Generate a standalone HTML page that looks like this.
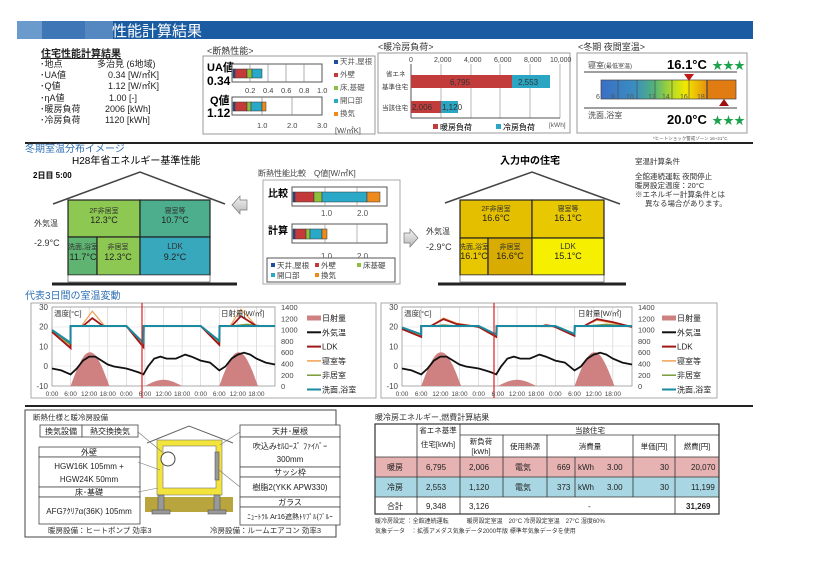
<!DOCTYPE html>
<html><head><meta charset="utf-8"><style>
html,body{margin:0;padding:0;background:#fff;}
svg{display:block;font-family:"Liberation Sans","Noto Sans CJK JP",sans-serif;}
</style></head><body>
<svg id="s" width="833" height="580" viewBox="0 0 833 580" xmlns="http://www.w3.org/2000/svg">
<defs>
<linearGradient id="tg" x1="0" x2="1" y1="0" y2="0">
<stop offset="0" stop-color="#3a6fc6"/><stop offset="0.32" stop-color="#3a8ec0"/><stop offset="0.5" stop-color="#52b37a"/><stop offset="0.68" stop-color="#b8dc22"/><stop offset="0.8" stop-color="#f2e800"/><stop offset="1" stop-color="#e8900c"/></linearGradient>
<linearGradient id="arr" x1="0" x2="0" y1="0" y2="1"><stop offset="0" stop-color="#f4f4f4"/><stop offset="1" stop-color="#b8b8b8"/></linearGradient>
</defs>
<rect x="17" y="21" width="736" height="18" fill="#1b5ba2"/>
<rect x="17" y="21" width="25" height="18" fill="#6a9bcc"/>
<rect x="42" y="21" width="43" height="18" fill="#3f76b5"/>
<rect x="85" y="21" width="28" height="18" fill="#5587c0"/>
<text x="112" y="36" font-size="15" fill="#fff">性能計算結果</text>
<g font-size="9" fill="#222">
<text x="41" y="57" font-size="10" font-weight="bold" text-decoration="underline">住宅性能計算結果</text>
<text x="40" y="67">･地点</text><text x="97" y="67">多治見 (6地域)</text>
<text x="40" y="78">･UA値</text><text x="108" y="78">0.34 [W/㎡K]</text>
<text x="40" y="89">･Q値</text><text x="108" y="89">1.12 [W/㎡K]</text>
<text x="40" y="101">･ηA値</text><text x="109" y="101">1.00 [-]</text>
<text x="40" y="112">･暖房負荷</text><text x="105" y="112">2006 [kWh]</text>
<text x="40" y="123">･冷房負荷</text><text x="105" y="123">1120 [kWh]</text>
</g>
<text x="207" y="54" font-size="9" fill="#333">&lt;断熱性能&gt;</text>
<rect x="203" y="56" width="172" height="78" fill="#fff" stroke="#999"/>
<text x="207" y="71" font-size="11" font-weight="bold">UA値</text>
<text x="207" y="85" font-size="12" font-weight="bold">0.34</text>
<rect x="232" y="64" width="90" height="18" fill="#fff" stroke="#555"/>
<g stroke="#777" stroke-width="0.6"><line x1="250" y1="64" x2="250" y2="82"/><line x1="268" y1="64" x2="268" y2="82"/><line x1="286" y1="64" x2="286" y2="82"/><line x1="304" y1="64" x2="304" y2="82"/></g>
<g stroke="#333" stroke-width="0.5"><rect x="233" y="69" width="2" height="9" fill="#1f4e9c"/><rect x="235" y="69" width="12" height="9" fill="#c43a3a"/><rect x="247" y="69" width="5" height="9" fill="#8cc03a"/><rect x="252" y="69" width="10" height="9" fill="#2aa8c8"/></g>
<g font-size="7.5" fill="#444"><text x="245" y="93">0.2</text><text x="263" y="93">0.4</text><text x="281" y="93">0.6</text><text x="299" y="93">0.8</text><text x="317" y="93">1.0</text></g>
<text x="210" y="104" font-size="11" font-weight="bold">Q値</text>
<text x="207" y="117" font-size="12" font-weight="bold">1.12</text>
<rect x="232" y="97" width="90" height="18" fill="#fff" stroke="#555"/>
<g stroke="#777" stroke-width="0.6"><line x1="262" y1="97" x2="262" y2="115"/><line x1="292" y1="97" x2="292" y2="115"/></g>
<g stroke="#333" stroke-width="0.5"><rect x="233" y="102" width="2" height="9" fill="#1f4e9c"/><rect x="235" y="102" width="12" height="9" fill="#c43a3a"/><rect x="247" y="102" width="4" height="9" fill="#8cc03a"/><rect x="251" y="102" width="11" height="9" fill="#2aa8c8"/><rect x="262" y="102" width="4" height="9" fill="#ee8a1c"/></g>
<g font-size="7.5" fill="#444"><text x="257" y="128">1.0</text><text x="287" y="128">2.0</text><text x="317" y="128">3.0</text><text x="335" y="133">[W/㎡K]</text></g>
<g font-size="7.5" fill="#555">
<rect x="334" y="60" width="4" height="4" fill="#1f4e9c"/><text x="340" y="64">天井,屋根</text>
<rect x="334" y="73" width="4" height="4" fill="#c43a3a"/><text x="340" y="77">外壁</text>
<rect x="334" y="86" width="4" height="4" fill="#8cc03a"/><text x="340" y="90">床,基礎</text>
<rect x="334" y="99" width="4" height="4" fill="#2aa8c8"/><text x="340" y="103">開口部</text>
<rect x="334" y="112" width="4" height="4" fill="#ee8a1c"/><text x="340" y="116">換気</text></g>
<text x="378" y="50" font-size="9" fill="#333">&lt;暖冷房負荷&gt;</text>
<rect x="378" y="53" width="192" height="80" fill="#fff" stroke="#999"/>
<g font-size="7" fill="#444"><text x="409" y="62">0</text><text x="434" y="62">2,000</text><text x="464" y="62">4,000</text><text x="494" y="62">6,000</text><text x="524" y="62">8,000</text><text x="550" y="62">10,000</text></g>
<g stroke="#888" stroke-width="0.6"><line x1="441" y1="64" x2="441" y2="118"/><line x1="471" y1="64" x2="471" y2="118"/><line x1="500" y1="64" x2="500" y2="118"/><line x1="530" y1="64" x2="530" y2="118"/><line x1="560" y1="64" x2="560" y2="118"/></g>
<line x1="411" y1="64" x2="411" y2="118" stroke="#555"/><line x1="411" y1="118" x2="560" y2="118" stroke="#555"/>
<rect x="411" y="75" width="101" height="13" fill="#c23c3c"/><rect x="512" y="75" width="38" height="13" fill="#2aa5c3"/>
<rect x="411" y="101" width="30" height="12" fill="#c23c3c"/><rect x="441" y="101" width="17" height="12" fill="#2aa5c3"/>
<g font-size="8" fill="#333"><text x="450" y="85">6,795</text><text x="518" y="85">2,553</text><text x="412" y="110">2,006</text><text x="442" y="110">1,120</text></g>
<g font-size="6.5" fill="#333"><text x="386" y="76">省エネ</text><text x="382" y="89">基準住宅</text><text x="382" y="110">当該住宅</text></g>
<rect x="433" y="124" width="5" height="5" fill="#c23c3c"/><text x="440" y="130" font-size="8">暖房負荷</text>
<rect x="496" y="124" width="5" height="5" fill="#2aa5c3"/><text x="503" y="130" font-size="8">冷房負荷</text>
<text x="549" y="127" font-size="6.5" fill="#555">[kWh]</text>
<text x="578" y="50" font-size="9" fill="#333">&lt;冬期 夜間室温&gt;</text>
<rect x="577" y="53" width="170" height="80" fill="#fff" stroke="#999"/>
<text x="588" y="68" font-size="8" fill="#444">寝室<tspan font-size="6">(最低室温)</tspan></text>
<text x="667" y="69" font-size="13" font-weight="bold">16.1°C</text>
<text x="712" y="69" font-size="11" fill="#1aa34a">★★★</text>
<line x1="584" y1="72" x2="737" y2="72" stroke="#666" stroke-width="1.2"/>
<rect x="601" y="80" width="106" height="19" fill="url(#tg)"/>
<rect x="707" y="80" width="29" height="19" fill="#e07c12"/>
<rect x="601" y="80" width="135" height="19" fill="none" stroke="#444" stroke-width="0.7"/>
<g stroke="#444" stroke-width="0.6"><line x1="618" y1="80" x2="618" y2="99"/><line x1="637" y1="80" x2="637" y2="99"/><line x1="655" y1="80" x2="655" y2="99"/><line x1="672" y1="80" x2="672" y2="99"/><line x1="689" y1="80" x2="689" y2="99"/><line x1="707" y1="80" x2="707" y2="99" stroke-width="1.2"/></g>
<g font-size="7" fill="#555"><text x="596" y="99">6</text><text x="611" y="99">8</text><text x="626" y="99">10</text><text x="648" y="99">12</text><text x="662" y="99">14</text><text x="680" y="99">16</text><text x="697" y="99">18</text></g>
<polygon points="684,74 694,74 689,81" fill="#c01818"/>
<polygon points="719,106 729,106 724,99" fill="#a01010"/>
<line x1="584" y1="108" x2="737" y2="108" stroke="#666" stroke-width="1.2"/>
<text x="588" y="118" font-size="8" fill="#444">洗面,浴室</text>
<text x="667" y="124" font-size="13" font-weight="bold">20.0°C</text>
<text x="712" y="124" font-size="11" fill="#1aa34a">★★★</text>
<text x="653" y="140" font-size="4.5" fill="#555">*ヒートショック警戒ゾーン 16~21°C</text>
<line x1="25" y1="143" x2="753" y2="143" stroke="#222" stroke-width="2"/>
<text x="25" y="152" font-size="10" fill="#2e6fb3">冬期室温分布イメージ</text>
<text x="72" y="164" font-size="10">H28年省エネルギー基準性能</text>
<text x="33" y="178" font-size="8" font-weight="bold">2日目 5:00</text>
<polyline points="53,204 140,172 225,204" fill="none" stroke="#444" stroke-width="1.5"/>
<g stroke="#222" stroke-width="1.2">
<rect x="68" y="200" width="72" height="37" fill="#8cc852"/>
<rect x="140" y="200" width="70" height="37" fill="#4cae8c"/>
<rect x="68" y="237" width="29" height="38" fill="#5eb470"/>
<rect x="97" y="237" width="43" height="38" fill="#8cc852"/>
<rect x="140" y="237" width="70" height="38" fill="#38a8bc"/>
</g>
<g font-size="7" fill="#333" text-anchor="middle"><text x="104" y="213">2F非居室</text><text x="175" y="213">寝室等</text><text x="83" y="249">洗面,浴室</text><text x="118" y="249">非居室</text><text x="175" y="249" font-size="8">LDK</text></g>
<g font-size="9" fill="#222" text-anchor="middle"><text x="104" y="223">12.3°C</text><text x="175" y="223">10.7°C</text><text x="83" y="260">11.7°C</text><text x="118" y="260">12.3°C</text><text x="175" y="260">9.2°C</text></g>
<rect x="68" y="275" width="142" height="7" fill="#fff" stroke="#444" stroke-width="0.6"/>
<line x1="52" y1="284" x2="237" y2="284" stroke="#222" stroke-width="3"/>
<text x="34" y="226" font-size="8" fill="#333">外気温</text><text x="34" y="246" font-size="9" fill="#333">-2.9°C</text>
<text x="258" y="176" font-size="8" fill="#444">断熱性能比較　Q値[W/㎡K]</text>
<rect x="263" y="180" width="137" height="104" fill="#fff" stroke="#aaa"/>
<text x="268" y="197" font-size="10" font-weight="bold">比較</text>
<rect x="292" y="187" width="95" height="19" fill="#fff" stroke="#555"/>
<g stroke="#888" stroke-width="0.6"><line x1="325" y1="187" x2="325" y2="206"/><line x1="357" y1="187" x2="357" y2="206"/></g>
<g stroke="#333" stroke-width="0.5"><rect x="293" y="192" width="2" height="10" fill="#1f4e9c"/><rect x="295" y="192" width="19" height="10" fill="#c43a3a"/><rect x="314" y="192" width="8" height="10" fill="#8cc03a"/><rect x="322" y="192" width="45" height="10" fill="#2aa8c8"/><rect x="367" y="192" width="13" height="10" fill="#ee8a1c"/></g>
<g font-size="8" fill="#555"><text x="321" y="216">1.0</text><text x="357" y="216">2.0</text></g>
<text x="268" y="234" font-size="10" font-weight="bold">計算</text>
<rect x="292" y="224" width="95" height="19" fill="#fff" stroke="#555"/>
<g stroke="#888" stroke-width="0.6"><line x1="325" y1="224" x2="325" y2="243"/><line x1="357" y1="224" x2="357" y2="243"/></g>
<g stroke="#333" stroke-width="0.5"><rect x="293" y="229" width="2" height="10" fill="#1f4e9c"/><rect x="295" y="229" width="11" height="10" fill="#c43a3a"/><rect x="306" y="229" width="4" height="10" fill="#8cc03a"/><rect x="310" y="229" width="12" height="10" fill="#2aa8c8"/><rect x="322" y="229" width="5" height="10" fill="#ee8a1c"/></g>
<g font-size="8" fill="#555"><text x="321" y="259">1.0</text><text x="357" y="259">2.0</text></g>
<rect x="267" y="258" width="128" height="24" fill="#fff" stroke="#555"/>
<g font-size="7.5" fill="#444">
<rect x="271" y="263" width="4" height="4" fill="#1f4e9c"/><text x="277" y="268">天井,屋根</text>
<rect x="315" y="263" width="4" height="4" fill="#c43a3a"/><text x="321" y="268">外壁</text>
<rect x="357" y="263" width="4" height="4" fill="#8cc03a"/><text x="363" y="268">床基礎</text>
<rect x="271" y="273" width="4" height="4" fill="#2aa8c8"/><text x="277" y="278">開口部</text>
<rect x="315" y="273" width="4" height="4" fill="#ee8a1c"/><text x="321" y="278">換気</text></g>
<polygon points="232,205 240,196 240,200 247,200 247,210 240,210 240,214" fill="url(#arr)" stroke="#777" stroke-width="0.7"/>
<polygon points="418,238 410,229 410,233 404,233 404,243 410,243 410,247" fill="url(#arr)" stroke="#777" stroke-width="0.7"/>
<text x="500" y="164" font-size="10" font-weight="bold">入力中の住宅</text>
<polyline points="445,203 532,172 620,204" fill="none" stroke="#444" stroke-width="1.5"/>
<g stroke="#222" stroke-width="1.2">
<rect x="460" y="200" width="72" height="38" fill="#e4bf00"/>
<rect x="532" y="200" width="72" height="38" fill="#e8c800"/>
<rect x="460" y="238" width="28" height="37" fill="#e8c600"/>
<rect x="488" y="238" width="44" height="37" fill="#d8ac00"/>
<rect x="532" y="238" width="72" height="37" fill="#f6f000"/>
</g>
<g font-size="7" fill="#333" text-anchor="middle"><text x="496" y="211">2F非居室</text><text x="568" y="211">寝室等</text><text x="474" y="249">洗面,浴室</text><text x="510" y="249">非居室</text><text x="568" y="249" font-size="8">LDK</text></g>
<g font-size="9" fill="#222" text-anchor="middle"><text x="496" y="221">16.6°C</text><text x="568" y="221">16.1°C</text><text x="474" y="259">16.1°C</text><text x="510" y="259">16.6°C</text><text x="568" y="259">15.1°C</text></g>
<rect x="460" y="275" width="144" height="7" fill="#fff" stroke="#444" stroke-width="0.6"/>
<line x1="438" y1="284" x2="626" y2="284" stroke="#222" stroke-width="3"/>
<text x="426" y="234" font-size="8" fill="#333">外気温</text><text x="426" y="250" font-size="9" fill="#333">-2.9°C</text>
<g font-size="7.5" fill="#333"><text x="635" y="164">室温計算条件</text><text x="635" y="179">全館連続運転 夜間停止</text><text x="635" y="188">暖房設定温度：20°C</text><text x="635" y="197">※エネルギー計算条件とは</text><text x="645" y="206">異なる場合があります。</text></g>
<text x="25" y="299" font-size="10" fill="#2e6fb3">代表3日間の室温変動</text>
<rect x="31" y="303" width="345" height="95" fill="#fff" stroke="#aaa"/>
<rect x="381" y="303" width="336" height="95" fill="#fff" stroke="#aaa"/>
<g id="charts"></g>
<line x1="25" y1="406" x2="753" y2="406" stroke="#222" stroke-width="2"/>
<rect x="25" y="410" width="311" height="127" fill="#fff" stroke="#444"/>
<text x="33" y="420" font-size="7.5" fill="#333">断熱仕様と暖冷房設備</text>
<g fill="#fff" stroke="#444" stroke-width="0.8">
<rect x="40" y="425" width="42" height="12"/><rect x="82" y="425" width="56" height="12"/>
<rect x="39" y="447" width="101" height="10"/><rect x="39" y="457" width="101" height="30"/><rect x="39" y="487" width="101" height="10"/><rect x="39" y="497" width="101" height="27"/>
<rect x="240" y="425" width="100" height="12"/><rect x="240" y="437" width="100" height="30"/><rect x="240" y="467" width="100" height="10"/><rect x="240" y="477" width="100" height="20"/><rect x="240" y="497" width="100" height="10"/><rect x="240" y="507" width="100" height="18"/>
</g>
<g font-size="8" fill="#222" text-anchor="middle">
<text x="61" y="434">換気設備</text><text x="110" y="434">熱交換換気</text>
<text x="89" y="455">外壁</text><text x="89" y="469">HGW16K 105mm +</text><text x="89" y="482">HGW24K 50mm</text><text x="89" y="495">床･基礎</text><text x="89" y="514">AFGｱｸﾘｱα(36K)  105mm</text>
<text x="290" y="434">天井･屋根</text><text x="290" y="449">吹込みｾﾙﾛｰｽﾞ ﾌｧｲﾊﾞｰ</text><text x="290" y="462">300mm</text><text x="290" y="475">サッシ枠</text><text x="290" y="490">樹脂2(YKK APW330)</text><text x="290" y="505">ガラス</text><text x="290" y="519" font-size="7">ﾆｭｰﾄﾗﾙ Ar16遮熱ﾄﾘﾌﾟﾙ(ﾌﾞﾙｰ</text>
</g>
<g font-size="7.5" fill="#333"><text x="48" y="533">暖房設備：ヒートポンプ 効率3</text><text x="210" y="533">冷房設備：ルームエアコン 効率3</text></g>
<polyline points="147,443 189,426 233,443" fill="none" stroke="#666" stroke-width="1"/>
<rect x="145" y="497" width="88" height="15" fill="#b9a53e"/>
<rect x="157" y="440" width="65" height="55" fill="#f2e43a" stroke="#777" stroke-width="0.6"/>
<rect x="163" y="446" width="53" height="42" fill="#fff" stroke="#777" stroke-width="0.6"/>
<g fill="#999" stroke="#555" stroke-width="0.6"><rect x="158" y="495" width="6" height="18"/><rect x="152" y="510" width="18" height="4"/><rect x="214" y="495" width="6" height="18"/><rect x="208" y="510" width="18" height="4"/><rect x="215" y="452" width="4" height="28"/></g>
<circle cx="168" cy="459" r="7" fill="#fff" stroke="#444"/>
<g stroke="#777" stroke-width="0.6"><line x1="138" y1="432" x2="162" y2="452"/><line x1="138" y1="462" x2="160" y2="470"/><line x1="138" y1="492" x2="158" y2="488"/><line x1="240" y1="432" x2="220" y2="445"/><line x1="240" y1="487" x2="219" y2="470"/></g>
<text x="375" y="420" font-size="8" fill="#333">暖冷房エネルギー,燃費計算結果</text>
<rect x="375" y="457" width="344" height="20" fill="#e6b2b2"/>
<rect x="375" y="477" width="344" height="20" fill="#a8d6e2"/>
<g stroke="#333" stroke-width="0.8" fill="none">
<rect x="375" y="424" width="344" height="90" stroke-width="1.2"/>
<line x1="460" y1="435" x2="719" y2="435"/><line x1="375" y1="457" x2="719" y2="457"/><line x1="375" y1="477" x2="719" y2="477"/><line x1="375" y1="497" x2="719" y2="497"/>
<line x1="417" y1="424" x2="417" y2="514"/><line x1="460" y1="424" x2="460" y2="514"/><line x1="503" y1="435" x2="503" y2="497"/><line x1="547" y1="435" x2="547" y2="497"/><line x1="575" y1="457" x2="575" y2="497"/><line x1="633" y1="435" x2="633" y2="497"/><line x1="675" y1="435" x2="675" y2="497"/><line x1="675" y1="497" x2="675" y2="514"/>
</g>
<g font-size="7.5" fill="#222" text-anchor="middle">
<text x="438" y="433">省エネ基準</text><text x="438" y="447">住宅[kWh]</text>
<text x="590" y="433">当該住宅</text>
<text x="481" y="444">新負荷</text><text x="481" y="454">[kWh]</text>
<text x="525" y="449">使用熱源</text><text x="590" y="449">消費量</text><text x="654" y="449">単価[円]</text><text x="697" y="449">燃費[円]</text>
</g>
<g font-size="8" fill="#222">
<text x="387" y="470">暖房</text><text x="387" y="490">冷房</text><text x="387" y="509">合計</text>
<text x="426" y="470">6,795</text><text x="426" y="490">2,553</text><text x="426" y="509">9,348</text>
<text x="469" y="470">2,006</text><text x="469" y="490">1,120</text><text x="469" y="509">3,126</text>
<text x="515" y="470">電気</text><text x="515" y="490">電気</text>
<text x="557" y="470">669</text><text x="557" y="490">373</text>
<text x="578" y="470">kWh</text><text x="578" y="490">kWh</text>
<text x="607" y="470">3.00</text><text x="607" y="490">3.00</text>
<text x="660" y="470">30</text><text x="660" y="490">30</text>
<text x="691" y="470">20,070</text><text x="691" y="490">11,199</text>
<text x="588" y="509">-</text>
<text x="686" y="509" font-weight="bold">31,269</text>
</g>
<g font-size="6" fill="#333"><text x="375" y="523">暖冷房設定 ：全館連続運転　　　暖房設定室温　20°C 冷房設定室温　27°C 湿度60%</text><text x="375" y="533">気象データ　：拡張アメダス気象データ2000年版 標準年気象データを使用</text></g>
</svg>
<script>
(function(){
var NS="http://www.w3.org/2000/svg",g=document.getElementById("charts");
function el(t,a,txt){var e=document.createElementNS(NS,t);for(var k in a)e.setAttribute(k,a[k]);if(txt!=null)e.textContent=txt;g.appendChild(e);return e;}
function path(pts,X,Y){return pts.map(function(p,i){return (i?"L":"M")+X(p[0]).toFixed(1)+" "+Y(p[1]).toFixed(1);}).join(" ");}
var black=[[0,-1],[3,-2],[6,-4],[8,-1],[10,3],[12,5],[14,5],[16,3],[18,1],[20,0],[22,-0.5],[24,-1],[26,-2],[28,-3],[29.5,-4],[31,0],[33,4],[35,5],[37,4],[40,4],[43,6],[45,5],[48,3],[51,2],[54,-2],[56,0],[58,4],[60,6],[62,7],[64,6],[66,4],[69,2],[72,1]];
function bell(h0,h1,pk){var r=[];for(var i=0;i<=20;i++){var h=h0+(h1-h0)*i/20;r.push([h,pk*Math.sin(Math.PI*i/20)]);}return r;}
function chart(ox,w,sets,redx,lx){
 var X=function(h){return ox+h*w/72;},Y=function(t){return 366.5-t*1.975;},YS=function(s){return 386-s*0.0564;};
 for(var i=1;i<12;i++)el("line",{x1:X(i*6),y1:307,x2:X(i*6),y2:386,stroke:"#ccc","stroke-width":0.6});
 [307,327,346,366].forEach(function(y){el("line",{x1:ox,y1:y,x2:ox+w,y2:y,stroke:"#ddd","stroke-width":0.5});});
 el("rect",{x:ox,y:307,width:w,height:79,fill:"none",stroke:"#888","stroke-width":0.7});
 [bell(6,18.5,600),bell(30,42,110),bell(54,66.5,600)].forEach(function(b){el("path",{d:path(b,X,YS)+"Z",fill:"#cf8080"});});
 sets.forEach(function(s){el("path",{d:path(s[1],X,Y),fill:"none",stroke:s[0],"stroke-width":s[2]});});
 el("path",{d:path(black,X,Y),fill:"none",stroke:"#111","stroke-width":1.8});
 el("line",{x1:redx,y1:303,x2:redx,y2:398,stroke:"#e02020","stroke-width":1.2});
 var ly=[30,20,10,0,-10];ly.forEach(function(v,i){el("text",{x:ox-4,y:310+i*19.7,"font-size":8,"text-anchor":"end",fill:"#444"},String(v));});
 for(var i=0;i<8;i++)el("text",{x:ox+w+6,y:310+i*11.3,"font-size":7.5,fill:"#444"},String(1400-i*200));
 var xl=["0:00","6:00","12:00","18:00","0:00","6:00","12:00","18:00","0:00","6:00","12:00","18:00"];
 xl.forEach(function(t,i){el("text",{x:X(i*6),y:396,"font-size":6.5,"text-anchor":"middle",fill:"#444"},t);});
 el("text",{x:ox+2,y:316,"font-size":7.5,fill:"#333"},"温度[°C]");
 el("text",{x:ox+w-54,y:316,"font-size":7.5,fill:"#333"},"日射量[W/㎡]");
 var L=[["日射量","#cf8080",5],["外気温","#111",2],["LDK","#a01818",2],["寝室等","#f0a050",1.5],["非居室","#7a9a3a",1.5],["洗面,浴室","#1a8aa0",2]];
 L.forEach(function(l,i){var y=318+i*14.3;el("line",{x1:lx,y1:y,x2:lx+14,y2:y,stroke:l[1],"stroke-width":l[2]});el("text",{x:lx+15,y:y+3,"font-size":8,fill:"#222"},l[0]);});
}
var s1=[
 ["#7a9a3a",[[0,18],[6,11],[6.01,20.5],[24,20.5],[29.5,11],[29.6,20.5],[48,20.5],[54,12],[54.1,20.5],[58,20.5],[63,21.3],[68,20.5],[72,20.5]],1.5],
 ["#f0a050",[[0,17.8],[6,10],[6.01,20.5],[9.5,20.5],[13,28],[17,20.5],[24,20.5],[29.5,10.5],[29.6,20.5],[48,20.5],[54,11.5],[54.1,20.5],[57.5,20.5],[61,29],[66,20.5],[72,20.5]],1.2],
 ["#a01818",[[0,17.5],[6,9.3],[6.01,20.5],[10,20.5],[13,24.5],[16.5,20.5],[24,20.5],[29.5,9.8],[29.6,20.5],[48,20.5],[54,11],[54.1,20.5],[58,20.5],[61,25.5],[66,20.5],[72,20.5]],1.8],
 ["#1a8aa0",[[0,18.5],[6,12],[6.01,20.5],[24,20.5],[29.5,12],[29.6,20.5],[48,20.5],[54,13],[54.1,20.5],[72,20.5]],2]];
var s2=[
 ["#7a9a3a",[[0,19.5],[6,16],[6.01,20.5],[10,20.5],[13,21],[17,20.5],[24,20.5],[29.5,16],[29.6,20.5],[48,20.5],[54,16],[54.1,20.5],[58,20.5],[64,21.3],[70,20.5],[72,20]],1.5],
 ["#f0a050",[[0,19.3],[6,15.5],[6.01,20.5],[9,20.5],[13,24.5],[17,22],[22,20.5],[24,20],[29.5,15.5],[29.6,20.5],[48,20.2],[54,16],[54.1,20.5],[57,20.5],[61,23.5],[66,22],[72,20]],1.2],
 ["#a01818",[[0,19],[6,15],[6.01,20.5],[9,20.5],[13,24],[17,21.5],[22,20.5],[24,20],[29.5,15],[29.6,20.5],[44,20.5],[45,20.9],[47,20.5],[48,20],[54,15.5],[54.1,20.5],[57,20.5],[61,24],[66,22.5],[72,20]],1.8],
 ["#1a8aa0",[[0,19.8],[6,16.3],[6.01,20.5],[24,20.5],[29.5,16.2],[29.6,20.5],[48,20.5],[54,16.5],[54.1,20.5],[72,20.5]],2]];
chart(52,223,s1,142,307);
chart(402,230,s2,494,662);
})();
</script>
</body></html>
